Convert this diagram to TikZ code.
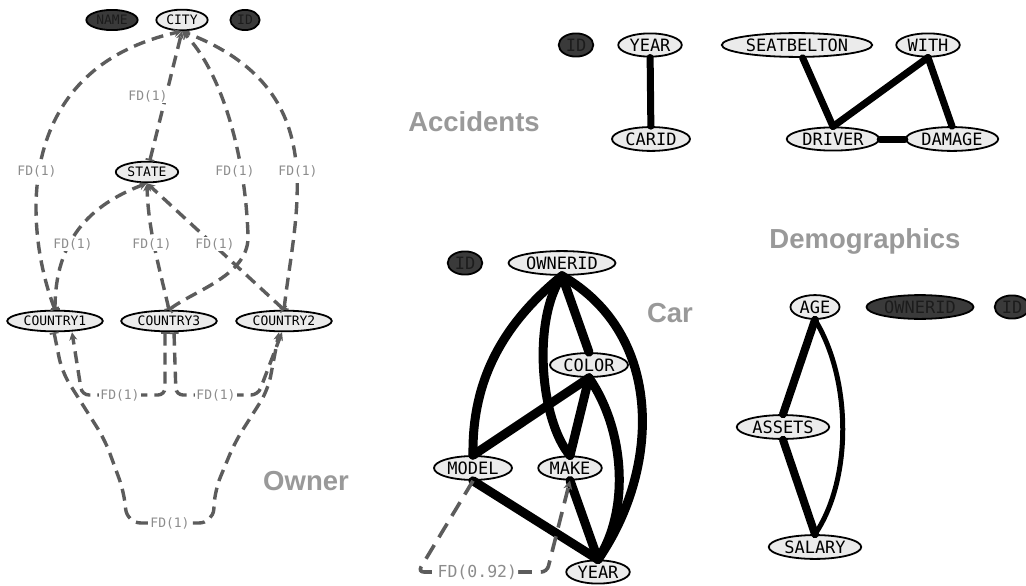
\documentclass[tikz,border=0pt]{standalone}
\usepackage{fontspec}
\setmonofont{DejaVu Sans Mono}
\setsansfont{Liberation Sans}
\usetikzlibrary{shapes.geometric,arrows.meta}
\definecolor{attrfill}{HTML}{EBEBEB}
\definecolor{hidefill}{HTML}{3A3A3A}
\definecolor{hidetext}{HTML}{1C1C1C}
\definecolor{fdline}{HTML}{5C5C5C}
\definecolor{fdtext}{HTML}{8C8C8C}
\definecolor{titlegray}{HTML}{999999}
\tikzset{
  attr/.style={ellipse, draw, line width=1.8pt, fill=attrfill, inner xsep=2pt, inner ysep=2pt, font=\ttfamily\fontsize{17}{17}\selectfont},
  owner/.style={inner xsep=2.5pt, inner ysep=2.4pt, font=\ttfamily\fontsize{13}{13}\selectfont},
  hide/.style={fill=hidefill, text=hidetext},
  fd/.style={draw=fdline, line width=3.4pt, dash pattern=on 12pt off 7pt, {Bar[width=9pt,line width=1.8pt]}-{Stealth[length=8pt,width=8pt]}},
  fdlabel/.style={fill=white, text=fdtext, inner sep=1pt, font=\ttfamily\fontsize{13}{13}\selectfont},
  dep/.style={line width=9pt, line cap=round},
  panel/.style={text=titlegray, font=\sffamily\bfseries\fontsize{27.5}{30}\selectfont}
}

\begin{document}
\begin{tikzpicture}[x=1pt,y=-1pt]
\fill[white] (0,0) rectangle (1026,586);
\useasboundingbox (0,0) rectangle (1026,586);

\node[attr, owner, hide] (name) at (112,20) {NAME};
\node[attr, owner] (city) at (182,20) {CITY};
\node[attr, owner, hide] (idown) at (245,20) {ID};
\node[attr, owner] (state) at (147,172) {STATE};
\node[attr, owner] (c1) at (55,321) {COUNTRY1};
\node[attr, owner] (c3) at (169,321) {COUNTRY3};
\node[attr, owner] (c2) at (284,321) {COUNTRY2};

\draw[fd] (state) -- (city.south);
\draw[fd] (c1.north) .. controls (26,235) and (8,70) .. (city.south);
\draw[fd] (c3.north) .. controls (195,290) and (250,275) .. (248,235) .. controls (245,150) and (220,70) .. (city.south);
\draw[fd] (c2.north) .. controls (295,210) and (335,90) .. (city.south);
\draw[fd] (c1.north) .. controls (55,240) and (90,205) .. (state.south);
\draw[fd] (c3.north) .. controls (160,270) and (148,230) .. (state.south);
\draw[fd] (c2.north) -- (state.south);
\draw[fd, rounded corners=7pt] ([xshift=-4pt]c3.south) -- (165,395) -- (82,395) -- ([xshift=17pt]c1.south);
\draw[fd, rounded corners=7pt] ([xshift=5pt]c3.south) -- (176,395) -- (258,395) -- ([xshift=-2pt]c2.south);
\draw[fd, rounded corners=14pt] ([xshift=-1pt]c1.south) -- (62,372) -- (105,440) -- (124,492) -- (127,523) -- (213,523) -- (215,490) -- (235,442) -- (268,390) -- ([xshift=-5pt]c2.south);

\node[fdlabel] (fdstate) at (148,96) {FD(1)};
\node[fdlabel] (fdone) at (37,171) {FD(1)};
\node[fdlabel] (fdthree) at (235,171) {FD(1)};
\node[fdlabel] (fdtwo) at (298,171) {FD(1)};
\node[fdlabel] (fdonest) at (73,244) {FD(1)};
\node[fdlabel] (fdthreest) at (152,244) {FD(1)};
\node[fdlabel] (fdtwost) at (215,244) {FD(1)};
\node[fdlabel] (fdleft) at (120,395) {FD(1)};
\node[fdlabel] (fdright) at (216,395) {FD(1)};
\node[fdlabel] (fdbottom) at (170,523) {FD(1)};
\node[panel] (ownertitle) at (306,481) {Owner};

\node[attr, hide] (ida) at (576,45) {ID};
\node[attr] (yeara) at (650,45) {YEAR};
\node[attr] (carid) at (651,139) {CARID};
\node[attr] (seat) at (797,45) {SEATBELTON};
\node[attr] (with) at (928,45) {WITH};
\node[attr] (driver) at (833,139) {DRIVER};
\node[attr] (damage) at (952,139) {DAMAGE};
\draw[dep, line width=7pt] (yeara) -- (carid);
\draw[dep, line width=7pt] (seat) -- (driver.north);
\draw[dep, line width=7pt] (with.south) -- (driver.north);
\draw[dep, line width=7pt] (with.south) -- (damage.north);
\draw[dep, line width=7pt] (driver) -- (damage);
\node[panel] (accidentstitle) at (474,122) {Accidents};

\node[attr, hide] (idc) at (465,263) {ID};
\node[attr] (ownc) at (562,263) {OWNERID};
\node[attr] (color) at (589,365) {COLOR};
\node[attr] (model) at (473,468) {MODEL};
\node[attr] (make) at (570,468) {MAKE};
\node[attr] (yearc) at (598,572) {YEAR};
\draw[dep] (ownc.south) .. controls (495,330) and (472,390) .. (model.north);
\draw[dep] (ownc.south) .. controls (532,320) and (540,420) .. (make.north);
\draw[dep] (ownc.south) -- (color.north);
\draw[dep] (ownc.south) .. controls (665,335) and (660,470) .. (yearc.north);
\draw[dep] (color.south) -- (model.north);
\draw[dep] (color.south) -- (make.north);
\draw[dep] (color.south) .. controls (625,430) and (630,510) .. (yearc.north);
\draw[dep] (make.south) -- (yearc.north);
\draw[dep] (model.south) -- (yearc.north);
\draw[fd, -{Stealth[length=9pt,width=9pt]}, line width=3.6pt, dash pattern=on 16pt off 9pt, rounded corners=6pt] (model.south) -- (418,572) -- node[pos=0.46, fdlabel, font=\ttfamily\fontsize{16.5}{16.5}\selectfont] (fdcar) {FD(0.92)} (547,572) -- (make.south);
\node[panel] (cartitle) at (670,313) {Car};

\node[panel] (demotitle) at (865,241) {Demographics};
\node[attr] (age) at (815,307) {AGE};
\node[attr, hide] (ownd) at (920,307) {OWNERID};
\node[attr, hide] (idd) at (1012,307) {ID};
\node[attr] (assets) at (783,427) {ASSETS};
\node[attr] (salary) at (815,547) {SALARY};
\draw[dep, line width=8pt] (age.south) -- (assets.north);
\draw[dep, line width=8pt] (assets.south) -- (salary.north);
\draw[dep, line width=5pt] (age.south) .. controls (852,380) and (852,480) .. (salary.north);
\end{tikzpicture}
\end{document}
